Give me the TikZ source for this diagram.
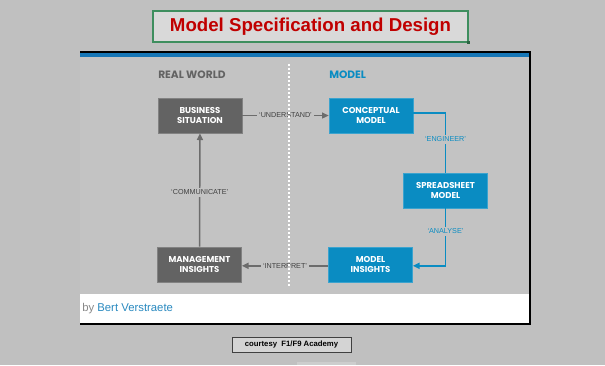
\documentclass[tikz,border=0pt]{standalone}
\usepackage{fontspec}
\setmainfont{Liberation Sans}
\newfontfamily\geo{Poppins}
\usetikzlibrary{arrows.meta}
\definecolor{bggray}{HTML}{C0C0C0}
\definecolor{panelgray}{HTML}{C3C3C3}
\definecolor{boxgray}{HTML}{636363}
\definecolor{modelblue}{HTML}{0A8CC2}
\definecolor{linkgray}{HTML}{6C6C6C}
\definecolor{tagtext}{HTML}{404040}
\definecolor{titlered}{HTML}{C00000}
\definecolor{framegreen}{HTML}{3E8E5E}
\definecolor{bandblue}{HTML}{1676B6}
\definecolor{namegray}{HTML}{8A8A8A}
\definecolor{nameblue}{HTML}{2A8AC0}

\begin{document}
\begin{tikzpicture}[x=0.75pt,y=-0.75pt,line join=miter,
  stagebox/.style={rectangle,minimum width=63pt,minimum height=26.25pt,inner sep=0pt,
    align=center,text=white,font=\geo\bfseries\fontsize{6.4}{7.3}\selectfont},
  worldbox/.style={stagebox,fill=boxgray,draw=boxgray!80!white,line width=0.5pt},
  modelbox/.style={stagebox,fill=modelblue,draw=modelblue!80!white,line width=0.5pt},
  greylink/.style={draw=linkgray,line width=1.1pt,-{Triangle[length=5pt,width=4.5pt]}},
  bluelink/.style={draw=modelblue,line width=1.1pt},
  steptag/.style={fill=panelgray,inner sep=1.4pt,font=\fontsize{5.4}{6}\selectfont},
  heading/.style={font=\geo\bfseries\fontsize{8}{9}\selectfont,inner sep=0pt}]
  \useasboundingbox (0,0) rectangle (605,365);
  \fill[bggray] (0,0) rectangle (605,365);
  \fill[bggray!80!white] (297,362) rectangle (356,365);
  % title
  \node[draw=framegreen,fill=black!15,line width=0.8pt,minimum width=236.25pt,minimum height=23.25pt,
    inner sep=0pt,text=titlered,font=\bfseries\fontsize{14}{16}\selectfont] (title) at (310.5,26.5)
    {Model Specification and Design};
  \fill[framegreen!70!black] (466.5,40.5) rectangle (469.5,43.5);
  % panel
  \fill[white] (80,52) rectangle (530,324);
  \fill[panelgray] (80,56) rectangle (529,294);
  \fill[bandblue] (80,53) rectangle (529,56.5);
  \draw[black,line width=1.2pt] (80,52) -- (530,52) -- (530,324) -- (80,324);
  \node[heading,text=boxgray,anchor=west] (real) at (158,75) {REAL WORLD};
  \node[heading,text=modelblue,anchor=west] (model) at (329,75) {MODEL};
  % stages
  \node[worldbox] (bus) at (200,115.5) {BUSINESS\\SITUATION};
  \node[modelbox] (con) at (371,115.5) {CONCEPTUAL\\MODEL};
  \node[modelbox] (spr) at (445.5,190.5) {SPREADSHEET\\MODEL};
  \node[worldbox] (mgt) at (199.5,264.5) {MANAGEMENT\\INSIGHTS};
  \node[modelbox] (mins) at (370.5,264.5) {MODEL\\INSIGHTS};
  % connectors
  \draw[greylink] (bus) -- node[steptag,text=tagtext] {‘UNDERSTAND’} (con);
  \draw[bluelink] ([yshift=1.8pt]con.east) -| node[steptag,text=modelblue,pos=0.72] {‘ENGINEER’} (spr.north);
  \draw[bluelink,-{Triangle[length=5pt,width=4.5pt]}] (spr.south) |- node[steptag,text=modelblue,pos=0.2] {‘ANALYSE’} ([yshift=-1pt]mins.east);
  \draw[greylink] ([yshift=-1pt]mins.west) -- node[steptag,text=tagtext] {‘INTERPRET’} ([yshift=-1pt]mgt.east);
  \draw[greylink] (mgt) -- node[steptag,text=tagtext,pos=0.48] {‘COMMUNICATE’} (bus);
  \draw[white,line width=0.8pt,dash pattern=on 1.5pt off 1.5pt] (289,64) -- (289,288);
  % credits
  \node[anchor=west,inner sep=0pt,font=\fontsize{8.5}{10}\selectfont] (by) at (82,309)
    {\textcolor{namegray}{by} \textcolor{nameblue}{Bert Verstraete}};
  \node[draw=black!75,fill=black!17,line width=0.6pt,minimum width=89.25pt,minimum height=11.25pt,
    inner sep=0pt,font=\bfseries\fontsize{5.8}{7}\selectfont] (courtesy) at (291.5,344.5)
    {courtesy\ \ F1/F9 Academy};
\end{tikzpicture}
\end{document}
